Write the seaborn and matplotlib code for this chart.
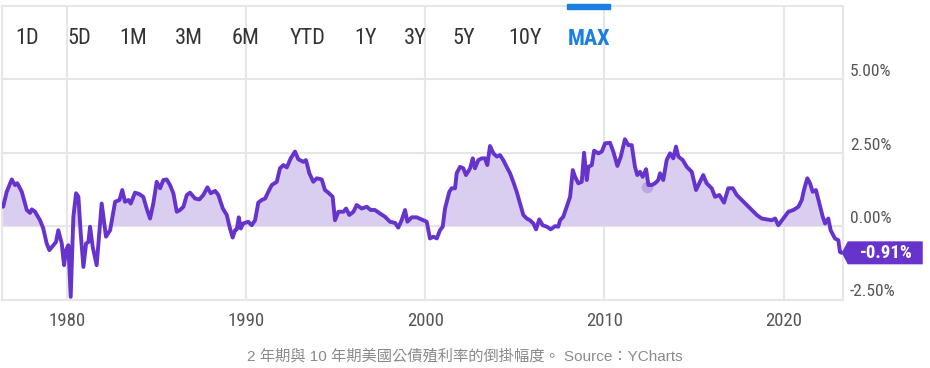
import matplotlib
matplotlib.use("Agg")
import matplotlib.pyplot as plt
import matplotlib.transforms as mtransforms
from matplotlib import font_manager
from matplotlib.patches import Polygon, Rectangle
import seaborn as sns

# Data: 10Y - 2Y treasury spread (%)
years = [
    1976.45, 1976.65, 1976.93, 1977.11, 1977.24, 1977.49, 1977.77, 1977.95, 1978.05, 1978.23,
    1978.51, 1978.69, 1978.88, 1979.03, 1979.25, 1979.40, 1979.53, 1979.72, 1979.85, 1979.96,
    1980.09, 1980.22, 1980.37, 1980.52, 1980.65, 1980.78, 1980.93, 1981.08, 1981.21, 1981.30,
    1981.45, 1981.67, 1981.95, 1982.19, 1982.42, 1982.60, 1982.70, 1982.94, 1983.10, 1983.25,
    1983.44, 1983.57, 1983.81, 1984.05, 1984.27, 1984.46, 1984.65, 1984.83, 1985.02, 1985.21,
    1985.39, 1985.58, 1985.76, 1985.95, 1986.14, 1986.32, 1986.51, 1986.70, 1986.88, 1987.16,
    1987.40, 1987.62, 1987.85, 1988.04, 1988.28, 1988.46, 1988.71, 1988.93, 1989.11, 1989.26,
    1989.39, 1989.49, 1989.60, 1989.71, 1989.85, 1990.13, 1990.32, 1990.51, 1990.69, 1990.88,
    1991.07, 1991.25, 1991.44, 1991.72, 1991.90, 1992.09, 1992.28, 1992.50, 1992.74, 1992.92,
    1993.20, 1993.35, 1993.54, 1993.76, 1993.95, 1994.23, 1994.41, 1994.60, 1994.84, 1994.97,
    1995.16, 1995.44, 1995.59, 1995.77, 1996.00, 1996.18, 1996.46, 1996.74, 1996.96, 1997.20,
    1997.48, 1997.76, 1998.04, 1998.32, 1998.50, 1998.69, 1998.88, 1999.01, 1999.25, 1999.53,
    1999.90, 2000.09, 2000.27, 2000.46, 2000.65, 2000.83, 2000.98, 2001.11, 2001.35, 2001.48,
    2001.67, 2001.76, 2001.95, 2002.13, 2002.28, 2002.51, 2002.66, 2002.78, 2002.97, 2003.16,
    2003.34, 2003.47, 2003.62, 2003.81, 2004.00, 2004.18, 2004.36, 2004.55, 2004.74, 2004.92,
    2005.11, 2005.30, 2005.48, 2005.67, 2005.85, 2006.04, 2006.19, 2006.37, 2006.56, 2006.79,
    2007.01, 2007.25, 2007.43, 2007.53, 2007.71, 2007.90, 2008.09, 2008.24, 2008.37, 2008.55,
    2008.74, 2008.87, 2009.02, 2009.11, 2009.30, 2009.43, 2009.67, 2009.86, 2010.04, 2010.32,
    2010.50, 2010.73, 2010.92, 2011.15, 2011.34, 2011.53, 2011.71, 2011.84, 2011.99, 2012.14,
    2012.33, 2012.46, 2012.65, 2012.83, 2013.01, 2013.11, 2013.29, 2013.48, 2013.67, 2013.85,
    2014.00, 2014.13, 2014.38, 2014.60, 2014.88, 2015.12, 2015.30, 2015.52, 2015.71, 2015.99,
    2016.18, 2016.42, 2016.68, 2016.92, 2017.17, 2017.39, 2017.67, 2017.95, 2018.23, 2018.51,
    2018.78, 2019.06, 2019.34, 2019.53, 2019.71, 2019.99, 2020.27, 2020.55, 2020.83, 2021.02,
    2021.14, 2021.33, 2021.48, 2021.63, 2021.81, 2022.00, 2022.19, 2022.32, 2022.50, 2022.63,
    2022.87, 2023.06, 2023.15, 2023.25,
]
spread = [
    0.66, 1.17, 1.59, 1.40, 1.46, 1.17, 0.55, 0.45, 0.57, 0.49,
    0.20, -0.08, -0.59, -0.82, -0.65, -0.54, -0.14, -0.59, -1.33, -0.82,
    -0.65, -2.41, 0.32, 1.12, 1.00, -0.25, -1.39, -0.59, -0.54, -0.02,
    -0.71, -1.33, 0.77, -0.36, -0.14, 0.49, 0.83, 0.89, 1.23, 0.83,
    0.89, 0.77, 1.14, 1.09, 1.00, 0.60, 0.26, 0.77, 1.51, 1.29,
    1.57, 1.59, 1.40, 1.12, 0.49, 0.55, 0.66, 1.06, 1.14, 0.94,
    0.91, 1.06, 1.32, 1.12, 1.20, 1.06, 0.60, 0.38, -0.08, -0.39,
    -0.14, -0.11, 0.30, -0.08, 0.09, 0.15, 0.03, 0.20, 0.80, 0.89,
    0.94, 1.17, 1.40, 1.51, 1.97, 2.08, 2.00, 2.31, 2.54, 2.28,
    2.19, 2.25, 1.80, 1.51, 1.63, 1.59, 1.23, 1.14, 1.00, 0.20,
    0.49, 0.49, 0.60, 0.38, 0.49, 0.72, 0.60, 0.66, 0.55, 0.55,
    0.43, 0.32, 0.15, 0.11, -0.05, 0.20, 0.55, 0.15, 0.30, 0.30,
    0.20, 0.15, -0.42, -0.36, -0.42, -0.14, -0.02, 0.60, 1.17, 1.29,
    1.29, 1.80, 2.02, 1.97, 1.74, 1.97, 2.31, 1.97, 2.25, 2.31,
    2.31, 2.08, 2.73, 2.48, 2.37, 2.42, 2.25, 2.02, 1.80, 1.51,
    1.17, 0.77, 0.38, 0.26, 0.20, 0.09, -0.11, 0.23, 0.03, -0.02,
    -0.11, 0.00, -0.02, 0.20, 0.32, 0.66, 1.00, 1.91, 1.68, 1.46,
    1.51, 2.50, 1.57, 2.02, 2.08, 2.57, 2.48, 2.54, 2.82, 2.84,
    2.54, 2.05, 2.37, 2.96, 2.76, 2.76, 2.02, 1.74, 1.85, 1.68,
    1.94, 1.40, 1.40, 1.46, 1.57, 1.80, 1.57, 2.25, 2.48, 2.31,
    2.71, 2.37, 2.25, 2.02, 1.85, 1.23, 1.46, 1.74, 1.46, 1.29,
    1.00, 1.06, 0.80, 1.29, 1.29, 1.06, 0.89, 0.72, 0.55, 0.38,
    0.26, 0.23, 0.20, 0.26, 0.03, 0.26, 0.49, 0.55, 0.66, 0.89,
    1.23, 1.63, 1.46, 1.17, 1.23, 0.77, 0.32, 0.09, 0.26, -0.14,
    -0.42, -0.48, -0.88, -0.91,
]
hover_point = (2012.37, 1.33)

year_ticks = [1980, 1990, 2000, 2010, 2020]
pct_ticks = [-2.5, 0.0, 2.5, 5.0]
range_buttons = ["1D", "5D", "1M", "3M", "6M", "YTD", "1Y", "3Y", "5Y", "10Y", "MAX"]
caption = "2 年期與 10 年期美國公債殖利率的倒掛幅度。 Source：YCharts"

# Layout / style
button_x = [0.030, 0.092, 0.156, 0.222, 0.290, 0.363, 0.432, 0.492, 0.549, 0.622, 0.698]
LINE = "#6633cc"
FILL = "#d9cdf0"
GRID = "#e6e6e6"

sns.set_theme(style="white")
names = {f.name for f in font_manager.fontManager.ttflist}
cond = next((n for n in ["Roboto Condensed", "Liberation Sans Narrow", "Open Sans Condensed"]
             if n in names), "Roboto")
plt.rcParams["font.family"] = [cond, "Noto Sans CJK TC", "DejaVu Sans"]

fig = plt.figure(figsize=(9.3, 3.68), dpi=100)
ax = fig.add_axes([1.7 / 930, 68.5 / 368, 841.3 / 930, 293.5 / 368])

ax.fill_between(years, spread, 0, where=[v >= 0 for v in spread],
                interpolate=True, color=FILL, linewidth=0, zorder=1)
sns.lineplot(x=years, y=spread, ax=ax, color=LINE, linewidth=2.8, sort=False,
             solid_joinstyle="round", zorder=3)
ax.scatter([hover_point[0]], [hover_point[1]], s=70, color="#b9a3e6", alpha=0.9,
           linewidth=0, zorder=2)

ax.set_xlim(1976.37, 2023.32)
ax.set_ylim(-2.5, 7.5)
ax.set_xticks(year_ticks)
ax.set_xticklabels([str(y) for y in year_ticks])
ax.set_yticks(pct_ticks)
ax.set_yticklabels([f"{v:.2f}%" for v in pct_ticks])
ax.yaxis.tick_right()
for lab in ax.get_yticklabels():
    lab.set_va("bottom")
ax.tick_params(axis="x", length=0, pad=9, labelsize=13.5, labelcolor="#555555")
ax.tick_params(axis="y", length=0, pad=5, labelsize=12.5, labelcolor="#555555")
ax.grid(True, color=GRID, linewidth=1.5)
ax.set_axisbelow(True)
for side in ["left", "right", "top", "bottom"]:
    ax.spines[side].set_color(GRID)
    ax.spines[side].set_linewidth(1.5)
ax.set_xlabel("")
ax.set_ylabel("")

# range selector buttons
for label, bx in zip(range_buttons, button_x):
    active = label == "MAX"
    ax.text(bx, 0.889, label, transform=ax.transAxes, ha="center", va="center",
            fontsize=16, color="#1a7fe0" if active else "#333333",
            fontweight="bold" if active else "normal")
ax.add_patch(Rectangle((0.672, 0.990), 0.051, 0.017, transform=ax.transAxes,
                       color="#1a7fe0", clip_on=False, zorder=5))

# last value tag
x_last, y_last = years[-1], spread[-1]
tag_trans = fig.dpi_scale_trans + mtransforms.ScaledTranslation(x_last, y_last, ax.transData)
tag = Polygon([(0, 0), (0.06, 0.115), (0.81, 0.115), (0.81, -0.115), (0.06, -0.115)],
              closed=True, transform=tag_trans, facecolor=LINE, edgecolor="none",
              clip_on=False, zorder=6)
ax.add_patch(tag)
ax.annotate(f"{y_last:.2f}%", xy=(x_last, y_last), xytext=(32, 0),
            textcoords="offset points", ha="center", va="center", color="white",
            fontsize=13.5, fontweight="bold", zorder=7, annotation_clip=False)

fig.text(0.5, 1 - 356 / 368, caption, ha="center", va="center", fontsize=11,
         color="#8a8a8a", family=["Liberation Sans", "Noto Sans CJK TC"])

fig.savefig("out.png", dpi=100)
